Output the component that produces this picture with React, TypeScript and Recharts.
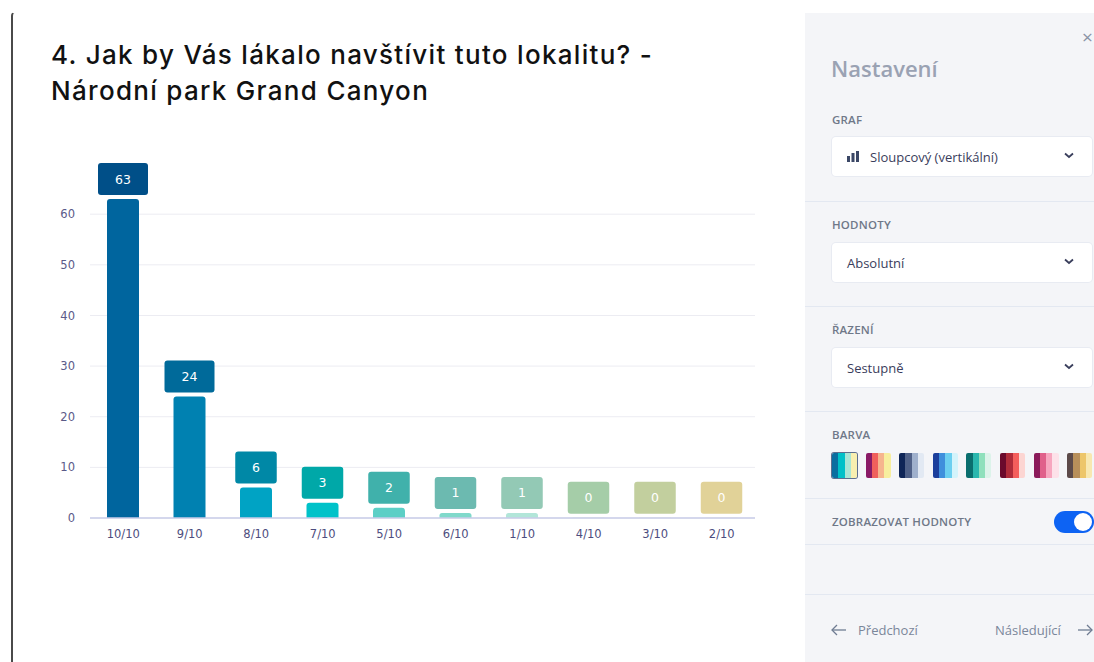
import React from "react";
import { BarChart, Bar, XAxis, YAxis, CartesianGrid, Cell, LabelList } from "recharts";

const categories = ["10/10", "9/10", "8/10", "7/10", "5/10", "6/10", "1/10", "4/10", "3/10", "2/10"];
const counts = [63, 24, 6, 3, 2, 1, 1, 0, 0, 0];
const yTicks = [0, 10, 20, 30, 40, 50, 60];

const barColors = ["#00659e", "#0081b1", "#00a3c4", "#00c2c9", "#5ccfc6", "#80d9cb", "#b2e6d9", "#c5e8c4", "#dbebbd", "#f3eaaf"];
const labelColors = ["#004f88", "#006a9a", "#0088a6", "#00a8a8", "#40b1ab", "#6cbab0", "#93c9b5", "#a5cda8", "#c2cf9e", "#e1d298"];

const swatches = [
  ["#0a6ea0", "#00c0c8", "#a8e5d6", "#f8efb0"],
  ["#8a1a66", "#f0605c", "#f6b58e", "#f7ee9e"],
  ["#0f2557", "#4f6087", "#9fb0cc", "#e2e9f3"],
  ["#1c3f9c", "#3f8fdc", "#6ccff0", "#d3f3fb"],
  ["#0a6e6e", "#2ab7ae", "#8fe0bc", "#dcf3ea"],
  ["#6b0a2c", "#b02c3a", "#f45e5c", "#fcd5d2"],
  ["#8b1a5a", "#e0608a", "#f7a6bf", "#fde1e9"],
  ["#5c4a4a", "#b88f5a", "#edc66a", "#f8e8b0"],
];

const data = categories.map((c, i) => ({ name: c, value: counts[i] }));

const FONT = "'DejaVu Sans', sans-serif";
const UI = "'Open Sans', 'Noto Sans', sans-serif";
const TITLE = "Inter, 'Open Sans', sans-serif";

const renderLabel = (props: any) => {
  const { x, y, width, height, value, index } = props;
  const txt = String(value);
  const w = txt.length * 8.5 + 33;
  const h = 32;
  const cx = x + width / 2;
  const barTop = Math.min(y, y + (height || 0));
  const top = barTop - 4 - h;
  return (
    <g>
      <rect x={cx - w / 2} y={top} width={w} height={h} rx={3} ry={3} fill={labelColors[index]} />
      <text x={cx} y={top + h / 2 + 4.5} textAnchor="middle" fill="#ffffff" fontSize={12.5} fontFamily={FONT}>
        {txt}
      </text>
    </g>
  );
};

const Chevron = ({ x, y }: { x: number; y: number }) => (
  <svg style={{ position: "absolute", left: x, top: y }} width={10} height={7}>
    <polyline points="1,1.5 5,5 9,1.5" fill="none" stroke="#3a3f5c" strokeWidth={1.8} />
  </svg>
);

const Arrow = ({ x, y, dir }: { x: number; y: number; dir: "l" | "r" }) => (
  <svg style={{ position: "absolute", left: x, top: y }} width={16} height={12}>
    {dir === "l" ? (
      <g fill="none" stroke="#6f7c92" strokeWidth={1.3}>
        <line x1={1} y1={6} x2={15} y2={6} />
        <polyline points="6,1 1,6 6,11" />
      </g>
    ) : (
      <g fill="none" stroke="#6f7c92" strokeWidth={1.3}>
        <line x1={1} y1={6} x2={15} y2={6} />
        <polyline points="10,1 15,6 10,11" />
      </g>
    )}
  </svg>
);

const Sep = ({ y }: { y: number }) => (
  <div style={{ position: "absolute", left: 805, top: y, width: 289, height: 1, background: "#e3e8f1" }} />
);

const SectionLabel = ({ y, children }: { y: number; children: React.ReactNode }) => (
  <div
    style={{
      position: "absolute",
      left: 832,
      top: y - 8,
      height: 16,
      lineHeight: "16px",
      fontSize: 11.5,
      fontWeight: 600,
      color: "#6f7888",
      fontFamily: UI,
      letterSpacing: 0.2,
      whiteSpace: "nowrap",
    }}
  >
    {children}
  </div>
);

const SelectBox = ({ top, text, icon }: { top: number; text: string; icon?: boolean }) => (
  <div
    style={{
      position: "absolute",
      left: 832,
      top,
      width: 260,
      height: 39,
      background: "#ffffff",
      borderRadius: 4,
      boxShadow: "0 0 0 1px #e8ebf2",
    }}
  >
    {icon && (
      <svg style={{ position: "absolute", left: 15, top: 14 }} width={12} height={11}>
        <rect x={0} y={5} width={3} height={6} fill="#3b4766" />
        <rect x={4.5} y={2} width={3} height={9} fill="#3b4766" />
        <rect x={9} y={0} width={3} height={11} fill="#3b4766" />
      </svg>
    )}
    <div
      style={{
        position: "absolute",
        left: icon ? 38 : 15,
        top: 11,
        lineHeight: "18px",
        fontSize: 13,
        color: "#3a3d5c",
        fontFamily: UI,
        whiteSpace: "nowrap",
      }}
    >
      {text}
    </div>
    <Chevron x={232} y={15} />
  </div>
);

export default function App() {
  return (
    <div
      style={{
        position: "absolute",
        left: 0,
        top: 0,
        width: 1094,
        height: 662,
        background: "#ffffff",
        overflow: "hidden",
      }}
    >
      {/* left border of the modal */}
      <div
        style={{
          position: "absolute",
          left: 11,
          top: 12,
          width: 6,
          height: 660,
          borderLeft: "2px solid #4a4a4a",
          borderTopLeftRadius: 4,
          borderTop: "1px solid transparent",
        }}
      />

      {/* title */}
      <div
        style={{
          position: "absolute",
          left: 51,
          top: 37,
          fontSize: 26,
          lineHeight: "36px",
          fontWeight: 500,
          letterSpacing: 1.3,
          color: "#111111",
          fontFamily: TITLE,
          whiteSpace: "nowrap",
        }}
      >
        <div>4. Jak by Vás lákalo navštívit tuto lokalitu? -</div>
        <div>Národní park Grand Canyon</div>
      </div>

      {/* chart */}
      <div style={{ position: "absolute", left: 0, top: 0 }}>
        <BarChart
          width={800}
          height={600}
          data={data}
          margin={{ top: 199, right: 45, bottom: 52, left: 50 }}
        >
          <CartesianGrid vertical={false} horizontalValues={yTicks} stroke="#ececf2" strokeWidth={1} />
          <XAxis
            dataKey="name"
            axisLine={{ stroke: "#c9cce8", strokeWidth: 1.5 }}
            tickLine={false}
            tickMargin={6}
            tick={{ fill: "#4d4d7e", fontSize: 11.5, fontFamily: FONT }}
            interval={0}
          />
          <YAxis
            width={40}
            domain={[0, 63]}
            ticks={yTicks}
            axisLine={false}
            tickLine={false}
            tickMargin={9}
            tick={{ fill: "#5a5a88", fontSize: 11.5, fontFamily: FONT }}
          />
          <Bar dataKey="value" barSize={32} radius={[3, 3, 0, 0]} minPointSize={0.2} isAnimationActive={false}>
            {data.map((d, i) => (
              <Cell key={d.name} fill={barColors[i]} />
            ))}
            <LabelList dataKey="value" content={renderLabel} />
          </Bar>
        </BarChart>
      </div>

      {/* settings panel */}
      <div style={{ position: "absolute", left: 805, top: 13, width: 289, height: 649, background: "#f4f5f8" }} />
      <div
        style={{
          position: "absolute",
          left: 1082,
          top: 26,
          fontSize: 19,
          lineHeight: "22px",
          color: "#8a93a6",
          fontFamily: UI,
        }}
      >
        ×
      </div>
      <div
        style={{
          position: "absolute",
          left: 831,
          top: 53,
          fontSize: 22,
          lineHeight: "30px",
          fontWeight: 600,
          color: "#9aa2b3",
          fontFamily: UI,
        }}
      >
        Nastavení
      </div>

      <SectionLabel y={120}>GRAF</SectionLabel>
      <SelectBox top={137} text="Sloupcový (vertikální)" icon />
      <Sep y={201} />

      <SectionLabel y={225}>HODNOTY</SectionLabel>
      <SelectBox top={243} text="Absolutní" />
      <Sep y={306} />

      <SectionLabel y={330}>ŘAZENÍ</SectionLabel>
      <SelectBox top={348} text="Sestupně" />
      <Sep y={411} />

      <SectionLabel y={435}>BARVA</SectionLabel>
      {swatches.map((sw, i) => (
        <div
          key={i}
          style={{
            position: "absolute",
            left: 832 + i * 33.6,
            top: 453,
            width: 25,
            height: 25,
            display: "flex",
            borderRadius: 2,
            overflow: "hidden",
            boxShadow: i === 0 ? "0 0 0 1px #5d6f8f" : "none",
          }}
        >
          {sw.map((c, j) => (
            <div key={j} style={{ flex: 1, background: c }} />
          ))}
        </div>
      ))}
      <Sep y={498} />

      <SectionLabel y={522}>ZOBRAZOVAT HODNOTY</SectionLabel>
      <div
        style={{
          position: "absolute",
          left: 1054,
          top: 511,
          width: 40,
          height: 22,
          borderRadius: 11,
          background: "#0d63f3",
        }}
      >
        <div
          style={{
            position: "absolute",
            left: 20,
            top: 2,
            width: 18,
            height: 18,
            borderRadius: 9,
            background: "#ffffff",
          }}
        />
      </div>
      <Sep y={544} />
      <Sep y={594} />

      <Arrow x={831} y={624} dir="l" />
      <div
        style={{
          position: "absolute",
          left: 858,
          top: 620,
          fontSize: 13,
          lineHeight: "20px",
          color: "#7a869a",
          fontFamily: UI,
          whiteSpace: "nowrap",
        }}
      >
        Předchozí
      </div>
      <div
        style={{
          position: "absolute",
          left: 995,
          top: 620,
          fontSize: 13,
          lineHeight: "20px",
          color: "#7a869a",
          fontFamily: UI,
          whiteSpace: "nowrap",
        }}
      >
        Následující
      </div>
      <Arrow x={1077} y={624} dir="r" />
    </div>
  );
}
